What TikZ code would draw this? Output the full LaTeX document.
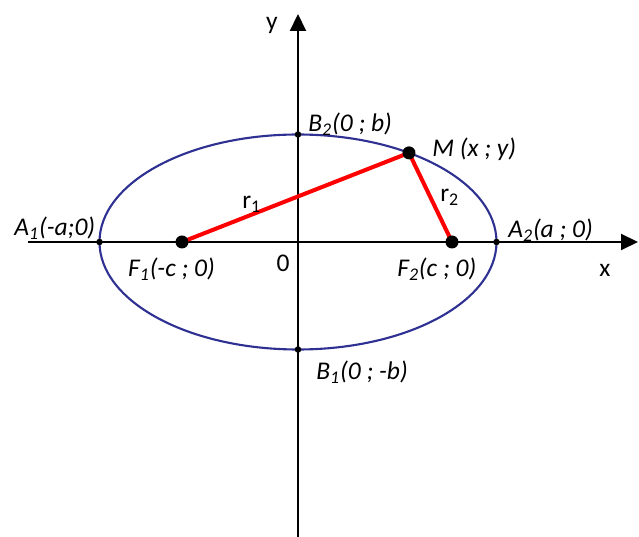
\documentclass[tikz,border=0pt]{standalone}
\usepackage{fontspec}
\setmainfont{Carlito}
\usepackage{xcolor}
\usetikzlibrary{arrows.meta}
\definecolor{ellblue}{HTML}{2E3192}
\definecolor{segred}{HTML}{FF0000}

\begin{document}
\begin{tikzpicture}[
		axis/.style={line width=1.2pt,-{Triangle[length=0.34cm,width=0.32cm]}},
		bigdot/.style={circle,fill=black,inner sep=0pt,minimum size=0.26cm},
		smalldot/.style={circle,fill=black,inner sep=0pt,minimum size=0.13cm},
		seg/.style={segred,line width=2.3pt},
		lbl/.style={font=\fontsize{14.5}{16}\selectfont\itshape,inner sep=0pt},
		txt/.style={font=\fontsize{14.5}{16}\selectfont,inner sep=0pt},
	]
	\useasboundingbox (-5.96,-5.90) rectangle (6.82,4.84);
	\def\sub#1{\textsubscript{#1}}
	% axes
	\coordinate (xs) at (-5.40,0);
	\coordinate (xe) at (6.80,0);
	\coordinate (ys) at (0,-5.90);
	\coordinate (ye) at (0,4.56);
	\draw[axis] (xs) -- (xe);
	\draw[axis] (ys) -- (ye);
	% ellipse
	\draw[ellblue,line width=1.2pt] (0,0) ellipse (3.97 and 2.15);
	\coordinate (A1) at (-3.97,0);
	\coordinate (A2) at (3.97,0);
	\coordinate (B1) at (0,-2.15);
	\coordinate (B2) at (0,2.15);
	\coordinate (F1) at (-2.32,0);
	\coordinate (F2) at (3.08,0);
	\coordinate (M) at (56:3.97 and 2.15);
	\draw[seg] (F1) -- (M) -- (F2);
	\foreach \p in {A1,A2,B1,B2}
		\node[smalldot] (d\p) at (\p) {};
	\foreach \p in {F1,F2,M}
		\node[bigdot] (d\p) at (\p) {};
	% labels
	\node[lbl,anchor=base east] (lA1) at (-4.05,0.12) {A\sub{1}(-a;0)};
	\node[lbl,anchor=base west] (lA2) at (4.20,0.08) {A\sub{2}(a ; 0)};
	\node[lbl,anchor=base west] (lB2) at (0.20,2.20) {B\sub{2}(0 ; b)};
	\node[lbl,anchor=base west] (lB1) at (0.36,-2.76) {B\sub{1}(0 ; -b)};
	\node[lbl,anchor=base] (lF1) at (-2.53,-0.70) {F\sub{1}(-c ; 0)};
	\node[lbl,anchor=base west] (lF2) at (1.98,-0.70) {F\sub{2}(c ; 0)};
	\node[lbl,anchor=base west] (lM) at (2.68,1.70) {M (x ; y)};
	\node[txt,anchor=base west] (lr1) at (-1.12,0.66) {r\sub{1}};
	\node[txt,anchor=base west] (lr2) at (2.84,0.80) {r\sub{2}};
	\node[txt,anchor=base] (lO) at (-0.30,-0.60) {0};
	\node[txt,anchor=base] (lx) at (6.14,-0.70) {x};
	\node[txt,anchor=base] (ly) at (-0.52,4.24) {y};
\end{tikzpicture}
\end{document}
